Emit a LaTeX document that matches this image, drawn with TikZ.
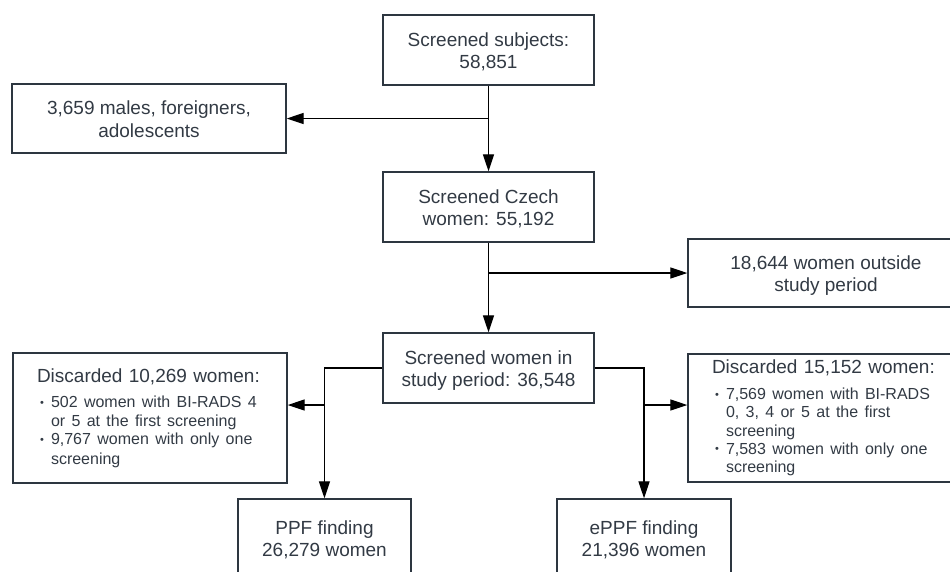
\documentclass[tikz,border=0pt]{standalone}
\usepackage{fontspec}
\setmainfont{Liberation Sans}
\usetikzlibrary{arrows.meta}
\definecolor{txt}{RGB}{50,58,68}
\definecolor{brd}{RGB}{45,54,64}
\newcommand{\bl}{\hspace*{3pt}\makebox[11pt][l]{\raisebox{1.5pt}{\fontsize{11}{11}\selectfont\textbullet}}}
\newcommand{\ind}{\hspace*{14pt}}
\newcommand{\tl}[1]{\raisebox{-3pt}[\height][\depth]{\begin{tabular}{@{}c@{}}#1\end{tabular}}}
\begin{document}
\begin{tikzpicture}[x=1pt,y=-1pt,
  base/.style={draw=brd, line width=1.4pt, text=txt, inner sep=0pt,
    font=\fontsize{19}{22.5}\selectfont},
  box/.style={base},
  dbox/.style={base, align=left, text width=226pt, minimum width=274pt},
  arr/.style={draw=black, line width=1.3pt, -{Triangle[length=17pt,width=11pt]}}]
\useasboundingbox (0,0) rectangle (950,571);
\clip (0,0) rectangle (950,571);

\node[box, minimum width=211pt, minimum height=70pt] (A) at (488.5,50) {\tl{Screened subjects:\\58,851}};
\node[box, minimum width=274pt, minimum height=69pt] (B) at (149,118.5) {\tl{3,659 males, foreigners,\\adolescents}};
\node[box, minimum width=211pt, minimum height=70pt] (C) at (488.5,207) {\tl{Screened Czech\\women: 55,192}};
\node[box, minimum width=276pt, minimum height=68pt] (D) at (826,273) {\tl{18,644 women outside\\study period}};
\node[box, minimum width=211pt, minimum height=70pt] (E) at (488.5,368) {\tl{Screened women in\\study period: 36,548}};

\node[dbox, minimum height=130pt] (F) at (150,418) {\vspace*{5pt}{\fontsize{19}{22}\selectfont Discarded 10,269 women:\par}
\vspace{2.5pt}
{\fontsize{16}{18.3}\selectfont
\bl 502 women with BI-RADS 4\\
\ind or 5 at the first screening\\
\bl 9,767 women with only one\\[1.5pt]
\ind screening\par}};

\node[dbox, minimum height=128pt] (G) at (825,418) {\vspace*{5pt}{\fontsize{19}{22}\selectfont Discarded 15,152 women:\par}
\vspace{2.5pt}
{\fontsize{16}{18.3}\selectfont
\bl 7,569 women with BI-RADS\\
\ind 0, 3, 4 or 5 at the first\\
\ind screening\\
\bl 7,583 women with only one\\
\ind screening\par}};

\node[box, minimum width=173pt, minimum height=78pt] (H) at (324.5,538) {\tl{PPF finding\\26,279 women}};
\node[box, minimum width=174pt, minimum height=78pt] (I) at (644,538) {\tl{ePPF finding\\21,396 women}};

\coordinate (yl) at (0,405);
\draw[arr] (A.south) -- (C.north);
\draw[arr] (A.south |- B.east) -- (B.east);
\draw[arr] (C.south) -- (E.north);
\draw[arr] (C.south |- D.west) -- (D.west);
\draw[arr] (E.west) -| (H.north);
\draw[arr] (E.east) -| (I.north);
\draw[arr] (H.north |- yl) -- (F.east |- yl);
\draw[arr] (I.north |- yl) -- (G.west |- yl);
\end{tikzpicture}
\end{document}
